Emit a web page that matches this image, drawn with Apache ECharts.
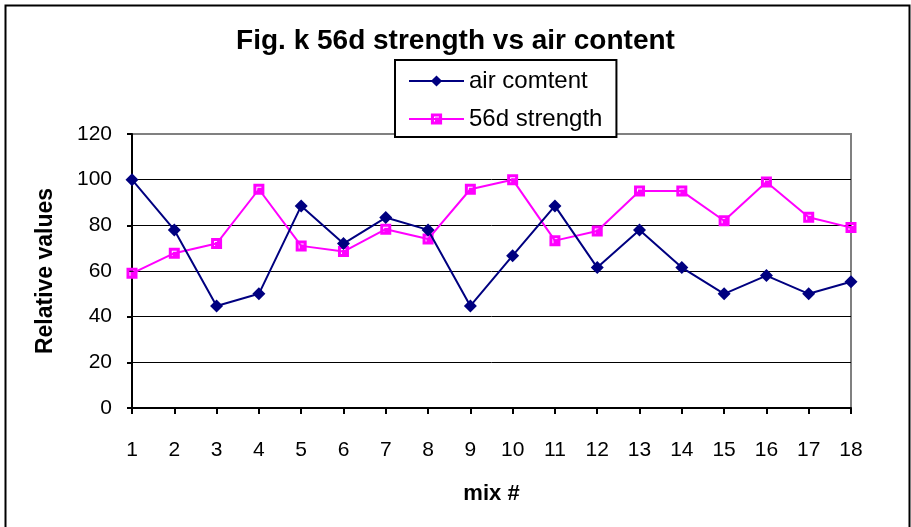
<!DOCTYPE html>
<html><head><meta charset="utf-8">
<script src="https://cdn.jsdelivr.net/npm/echarts@6/dist/echarts.min.js"></script>
<style>html,body{margin:0;padding:0;background:#fff}#c{width:911px;height:527px}</style>
</head><body><div id="c"></div>
<script>
const categories = ['1','2','3','4','5','6','7','8','9','10','11','12','13','14','15','16','17','18'];
const airContent = [100, 78, 44.7, 50, 88.5, 72, 83.4, 78, 44.7, 66.7, 88.5, 61.5, 78, 61.5, 50, 58, 50, 55.3];
const strength56d = [59, 67.8, 72, 95.8, 71, 68.5, 78.3, 74, 95.8, 100, 73.3, 77.5, 95, 95, 82, 99, 83.5, 79];
const yTicks = { min: 0, max: 120, interval: 20 };

const chart = echarts.init(document.getElementById('c'));
const F = 'Liberation Sans, Arial, sans-serif';
const squareMark = 'path://M0,0L11,0L11,11L0,11Z M3,3L3,8L4,8L4,4L8,4L8,3Z';
chart.setOption({
  animation: false,
  backgroundColor: '#fff',
  title: {
    text: 'Fig. k 56d strength vs air content',
    left: 'center', top: 22,
    textStyle: { fontFamily: F, fontSize: 28, fontWeight: 'bold', color: '#000' }
  },
  legend: {
    orient: 'vertical', left: 395, top: 60,
    backgroundColor: '#fff', borderColor: '#000', borderWidth: 2,
    padding: [9, 14, 6, 13], itemGap: 14, itemWidth: 55, itemHeight: 14,
    textStyle: { fontFamily: F, fontSize: 24, color: '#000' },
    data: ['air comtent', '56d strength']
  },
  grid: { left: 132, right: 60, top: 134, bottom: 119, show: true, borderColor: '#808080', borderWidth: 2 },
  xAxis: {
    type: 'category', data: categories, boundaryGap: false,
    name: 'mix #', nameLocation: 'middle', nameGap: 75,
    nameTextStyle: { fontFamily: F, fontSize: 22, fontWeight: 'bold', color: '#000' },
    axisLine: { lineStyle: { color: '#000', width: 2 } },
    axisTick: { length: 6, lineStyle: { color: '#000', width: 2 } },
    axisLabel: { fontFamily: F, fontSize: 21, color: '#000', margin: 32 },
    splitLine: { show: false }
  },
  yAxis: {
    type: 'value', min: yTicks.min, max: yTicks.max, interval: yTicks.interval,
    name: 'Relative values', nameLocation: 'middle', nameGap: 75, nameRotate: 90,
    nameTextStyle: { fontFamily: F, fontSize: 23, fontWeight: 'bold', color: '#000' },
    axisLine: { show: true, lineStyle: { color: '#000', width: 2 } },
    axisTick: { show: true, length: 5, lineStyle: { color: '#000', width: 2 } },
    axisLabel: { fontFamily: F, fontSize: 21, color: '#000', margin: 20 },
    splitLine: { show: true, lineStyle: { color: ['#000','#000','#000','#000','#000','#000','#808080'], width: 1 } }
  },
  series: [
    {
      name: 'air comtent', type: 'line', data: airContent,
      symbol: 'diamond', symbolSize: 13,
      lineStyle: { color: '#000080', width: 2 },
      itemStyle: { color: '#000080' }, z: 3
    },
    {
      name: '56d strength', type: 'line', data: strength56d,
      symbol: squareMark, symbolSize: 11,
      lineStyle: { color: '#FF00FF', width: 2 },
      itemStyle: { color: '#FF00FF' }, z: 2
    }
  ],
  graphic: [{
    type: 'rect', left: 3, top: 3, z: -1,
    shape: { width: 904, height: 540 },
    style: { fill: 'none', stroke: '#000', lineWidth: 2 }
  }]
});
</script></body></html>
